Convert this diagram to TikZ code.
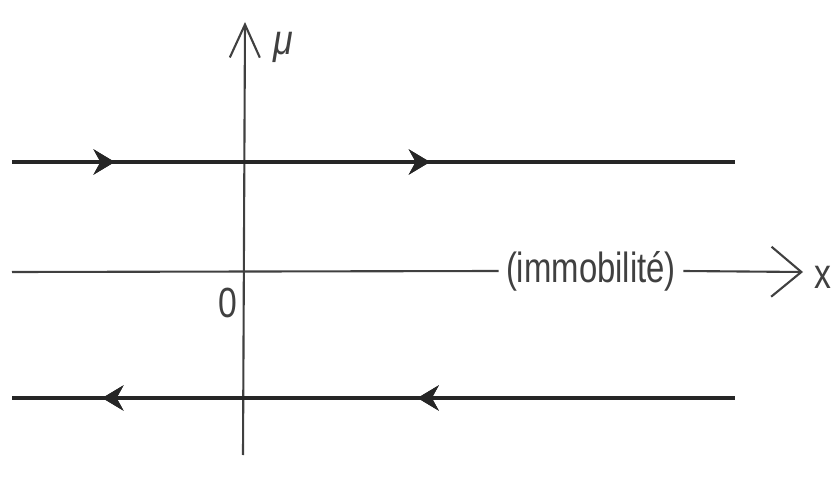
\documentclass[tikz,border=0pt]{standalone}
\usepackage{fontspec}
\setmainfont{Liberation Sans}
\usetikzlibrary{arrows.meta, decorations.markings}
\tikzset{
  axis/.style={line width=1.2pt, color=black!75},
  flow/.style={line width=2.8pt, color=black!85},
  midright/.style={postaction={decorate}, decoration={markings,
    mark=at position #1 with {\arrow{Stealth[length=0.42cm, width=0.5cm]}}}},
  midleft/.style={postaction={decorate}, decoration={markings,
    mark=at position #1 with {\arrowreversed{Stealth[length=0.42cm, width=0.5cm]}}}},
  lbl/.style={font=\fontsize{24}{26}\selectfont, text=black!75, inner sep=1pt}
}
\begin{document}
\begin{tikzpicture}[x=0.02cm, y=-0.02cm]
  \useasboundingbox (0,0) rectangle (835,486);

  % axes
  \coordinate (vbot) at (243,455);
  \coordinate (vtop) at (245,22);
  \draw[axis, -{Straight Barb[length=0.66cm, width=0.6cm]}] (vbot) -- (vtop);
  \node[lbl, font=\fontsize{24}{26}\selectfont\itshape] (mu) at (283,47) {\scalebox{0.85}[1]{μ}};

  \coordinate (hleft) at (12,272);
  \coordinate (hright) at (803,272);
  \node[lbl, inner sep=4pt] (immo) at (591,271) {\scalebox{0.78}[1]{(immobilité)}};
  \draw[axis] (hleft) -- (immo.west);
  \draw[axis, -{Straight Barb[length=0.6cm, width=1.0cm]}] (immo.east) -- (hright);
  \node[lbl] (xlab) at (823,277) {\scalebox{0.8}[1]{x}};
  \node[lbl] (zero) at (228,303) {\scalebox{0.8}[1]{0}};

  % trajectories
  \coordinate (up1) at (12,162);
  \coordinate (up2) at (735,162);
  \draw[flow, midright=0.142, midright=0.578] (up1) -- (up2);
  \coordinate (lo1) at (12,398);
  \coordinate (lo2) at (735,398);
  \draw[flow, midleft=0.125, midleft=0.561] (lo1) -- (lo2);
\end{tikzpicture}
\end{document}
